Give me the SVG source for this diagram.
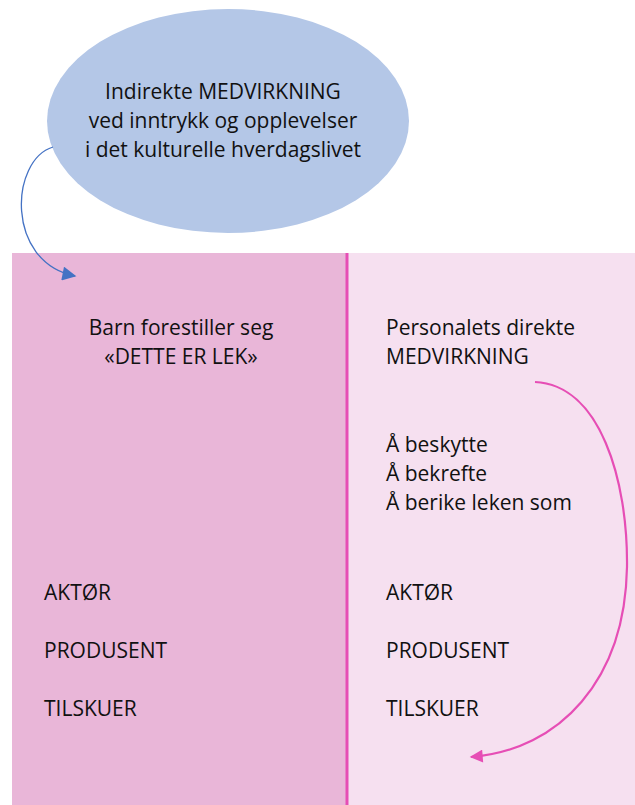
<svg xmlns="http://www.w3.org/2000/svg" width="635" height="805" viewBox="0 0 635 805">
<style>
text{font-family:"Open Sans","Liberation Sans",Arial,sans-serif;font-size:21px;fill:#111}
.c{text-anchor:middle}
</style>
<defs>
<marker id="ab" viewBox="0 0 10 10" refX="9" refY="5" markerWidth="15" markerHeight="14" orient="auto" markerUnits="userSpaceOnUse"><path d="M0,0L10,5L0,10z" fill="#4472c4"/></marker>
<marker id="ap" viewBox="0 0 10 10" refX="9" refY="5" markerWidth="15" markerHeight="13" orient="auto" markerUnits="userSpaceOnUse"><path d="M0,0L10,5L0,10z" fill="#e64eb5"/></marker>
</defs>
<rect width="635" height="805" fill="#fff"/>
<g id="left-panel">
<rect x="12" y="253" width="335" height="552" fill="#e9b6d8"/>
<text class="c" x="181" y="335">Barn forestiller seg</text>
<text class="c" x="181" y="364">«DETTE ER LEK»</text>
<text x="44" y="600">AKTØR</text>
<text x="44" y="658">PRODUSENT</text>
<text x="44" y="716">TILSKUER</text>
</g>
<g id="right-panel">
<rect x="347" y="253" width="288" height="552" fill="#f6e0f0"/>
<text x="386" y="335">Personalets direkte</text>
<text x="386" y="364">MEDVIRKNING</text>
<text x="386" y="452">Å beskytte</text>
<text x="386" y="481">Å bekrefte</text>
<text x="386" y="510">Å berike leken som</text>
<text x="386" y="600">AKTØR</text>
<text x="386" y="658">PRODUSENT</text>
<text x="386" y="716">TILSKUER</text>
</g>
<g id="divider"><line x1="347" y1="253" x2="347" y2="805" stroke="#e64eb5" stroke-width="3"/></g>
<g id="ellipse-node">
<ellipse cx="228" cy="121" rx="181" ry="112" fill="#b4c7e7"/>
<text class="c" x="223" y="99">Indirekte MEDVIRKNING</text>
<text class="c" x="223" y="128">ved inntrykk og opplevelser</text>
<text class="c" x="223" y="157">i det kulturelle hverdagslivet</text>
</g>
<g id="connectors" fill="none">
<path d="M53,147 C10,160 5,262 75,276" stroke="#4472c4" stroke-width="1.3" marker-end="url(#ab)"/>
<path d="M535,382 C600,385 628,480 627,567 C625,680 560,750 471,757" stroke="#e64eb5" stroke-width="2.2" marker-end="url(#ap)"/>
</g>
</svg>
